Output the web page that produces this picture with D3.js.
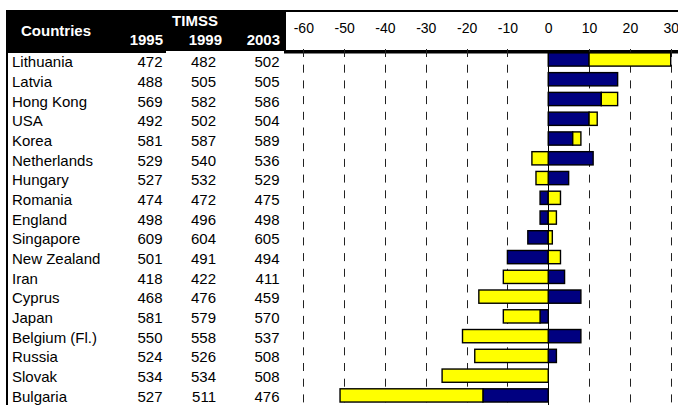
<!DOCTYPE html>
<html>
<head>
<meta charset="utf-8">
<script src="https://cdn.jsdelivr.net/npm/d3@7"></script>
<style>
  html, body { margin: 0; padding: 0; background: #fff; }
  svg { display: block; font-family: "Liberation Sans", Arial, sans-serif; }
</style>
</head>
<body>
<svg id="chart" width="678" height="405"></svg>
<script>
// TIMSS mean scores by country
const countries = ["Lithuania", "Latvia", "Hong Kong", "USA", "Korea", "Netherlands",
  "Hungary", "Romania", "England", "Singapore", "New Zealand", "Iran", "Cyprus",
  "Japan", "Belgium (Fl.)", "Russia", "Slovak", "Bulgaria"];
const score1995 = [472, 488, 569, 492, 581, 529, 527, 474, 498, 609, 501, 418, 468, 581, 550, 524, 534, 527];
const score1999 = [482, 505, 582, 502, 587, 540, 532, 472, 496, 604, 491, 422, 476, 579, 558, 526, 534, 511];
const score2003 = [502, 505, 586, 504, 589, 536, 529, 475, 498, 605, 494, 411, 459, 570, 537, 508, 508, 476];
const years = ["1995", "1999", "2003"];
const changeTicks = [-60, -50, -40, -30, -20, -10, 0, 10, 20, 30];

const svg = d3.select("#chart");
const W = 678, H = 405;

// Score changes between consecutive waves, stacked so that gains and losses diverge from zero
const rows = countries.map((c, i) => ({
  country: c,
  d1: score1999[i] - score1995[i],
  d2: score2003[i] - score1999[i]
}));
const stack = d3.stack().keys(["d1", "d2"]).offset(d3.stackOffsetDiverging);
const layers = stack(rows);
const colors = { d1: "#000080", d2: "#ffff00" };

const x = d3.scaleLinear().domain([-60, 30]).range([303.3, 670.7]);
const yBar = d3.scaleBand().domain(countries).range([49.6, 405.3])
  .paddingInner(0.33).paddingOuter(0.165);
const yRow = d3.scaleBand().domain(countries).range([52, 406]);

// ---- table header ----
svg.append("rect").attr("x", 6).attr("y", 10).attr("width", 278).attr("height", 41).attr("fill", "#000");
svg.append("rect").attr("x", 6).attr("y", 50).attr("width", 160).attr("height", 3).attr("fill", "#000");
svg.append("text").attr("x", 56).attr("y", 36).attr("text-anchor", "middle")
  .attr("font-size", 15).attr("font-weight", "bold").attr("fill", "#fff").text("Countries");
svg.append("text").attr("x", 195).attr("y", 26).attr("text-anchor", "middle")
  .attr("font-size", 15).attr("font-weight", "bold").attr("fill", "#fff").text("TIMSS");
const colRight = [162.5, 216, 279.5];
const hdrRight = [163, 222, 280];
svg.selectAll("text.year").data(years).join("text").attr("class", "year")
  .attr("x", (d, i) => hdrRight[i]).attr("y", 45).attr("text-anchor", "end")
  .attr("font-size", 15).attr("font-weight", "bold").attr("fill", "#fff").text(d => d);

// left table border
svg.append("rect").attr("x", 6).attr("y", 10).attr("width", 2).attr("height", H - 10).attr("fill", "#000");

// ---- table body ----
const body = svg.append("g").attr("font-size", 15).attr("fill", "#000");
body.selectAll("text.name").data(countries).join("text").attr("class", "name")
  .attr("x", 12).attr("y", d => yRow(d) + 15.3).text(d => d);
[score1995, score1999, score2003].forEach((col, k) => {
  body.selectAll("text.c" + k).data(col).join("text").attr("class", "c" + k)
    .attr("x", colRight[k]).attr("y", (d, i) => yRow(countries[i]) + 15.3)
    .attr("text-anchor", "end").text(d => d);
});

// ---- chart header box with scale labels ----
svg.append("rect").attr("x", 285).attr("y", 11).attr("width", W - 285 + 5).attr("height", 40.5)
  .attr("fill", "#fff").attr("stroke", "#000").attr("stroke-width", 2);
svg.append("rect").attr("x", 284).attr("y", 50).attr("width", W - 284).attr("height", 3.5).attr("fill", "#000");

const axis = d3.axisTop(x).tickValues(changeTicks).tickSize(0).tickPadding(0).tickFormat(d => String(d));
const axG = svg.append("g").attr("transform", "translate(0,32.5)").call(axis);
axG.select(".domain").remove();
axG.selectAll("text").attr("font-size", 14).attr("font-family", "Liberation Sans, Arial, sans-serif")
  .attr("fill", "#000").attr("dy", 0);

// ---- grid ----
const grid = svg.append("g");
grid.selectAll("line").data(changeTicks.filter(t => t !== 0)).join("line")
  .attr("x1", d => Math.round(x(d)) + 0.5).attr("x2", d => Math.round(x(d)) + 0.5)
  .attr("y1", 49).attr("y2", H)
  .attr("stroke", "#222").attr("stroke-width", 1).attr("stroke-dasharray", "8,7.7");
grid.append("line")
  .attr("x1", Math.round(x(0)) + 0.5).attr("x2", Math.round(x(0)) + 0.5)
  .attr("y1", 53).attr("y2", H).attr("stroke", "#000").attr("stroke-width", 1);

// ---- bars ----
svg.append("g").selectAll("g").data(layers).join("g")
  .attr("fill", d => colors[d.key])
  .selectAll("rect").data(d => d).join("rect")
  .attr("x", d => x(Math.min(d[0], d[1])))
  .attr("width", d => Math.abs(x(d[1]) - x(d[0])))
  .attr("y", d => yBar(d.data.country))
  .attr("height", yBar.bandwidth())
  .attr("stroke", d => (d[1] === d[0] ? "none" : "#000"))
  .attr("stroke-width", 1.4);
</script>
</body>
</html>
